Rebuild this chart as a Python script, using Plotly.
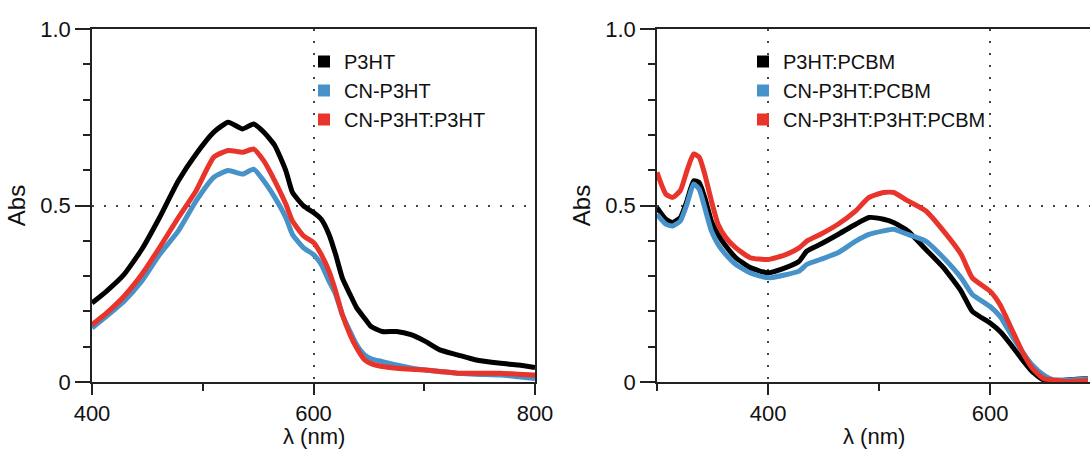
import plotly.graph_objects as go

# ---------------- data ----------------
# Left panel: films without PCBM
wl_left = [400, 413, 429, 445, 461, 478, 494, 510, 523, 536, 546, 555, 565, 575, 581,
           591, 600, 607, 614, 620, 626, 633, 639, 646, 652, 662, 675, 688, 701, 714,
           730, 746, 769, 785, 800]
abs_p3ht = [0.224, 0.257, 0.305, 0.376, 0.466, 0.570, 0.646, 0.708, 0.736, 0.717, 0.731,
            0.708, 0.670, 0.599, 0.537, 0.499, 0.480, 0.461, 0.418, 0.361, 0.295, 0.248,
            0.210, 0.181, 0.157, 0.143, 0.143, 0.134, 0.115, 0.091, 0.077, 0.063, 0.053,
            0.048, 0.041]
abs_cn_p3ht = [0.153, 0.186, 0.229, 0.286, 0.361, 0.428, 0.513, 0.580, 0.599, 0.589, 0.603,
               0.570, 0.523, 0.466, 0.418, 0.380, 0.361, 0.333, 0.286, 0.248, 0.191, 0.143,
               0.105, 0.077, 0.066, 0.058, 0.048, 0.040, 0.034, 0.030, 0.025, 0.022, 0.020,
               0.015, 0.010]
abs_cn_p3ht_p3ht = [0.162, 0.195, 0.243, 0.305, 0.381, 0.466, 0.542, 0.637, 0.656, 0.651,
                    0.660, 0.627, 0.570, 0.504, 0.456, 0.414, 0.395, 0.361, 0.314, 0.257,
                    0.191, 0.134, 0.096, 0.063, 0.052, 0.044, 0.039, 0.036, 0.034, 0.030,
                    0.025, 0.025, 0.025, 0.022, 0.020]

# Right panel: blends with PCBM
wl_right = [300, 308, 314, 321, 327, 333, 338, 343, 349, 355, 362, 371, 384, 400, 416,
            428, 435, 447, 463, 479, 491, 504, 513, 526, 542, 558, 574, 584, 600, 609,
            619, 629, 638, 648, 657, 669, 688]
abs_p3ht_pcbm = [0.494, 0.461, 0.452, 0.466, 0.513, 0.570, 0.565, 0.523, 0.456, 0.418,
                 0.385, 0.352, 0.324, 0.309, 0.324, 0.342, 0.371, 0.390, 0.418, 0.447,
                 0.466, 0.461, 0.452, 0.428, 0.376, 0.324, 0.257, 0.200, 0.167, 0.143,
                 0.105, 0.063, 0.029, 0.006, 0.001, 0.006, 0.009]
abs_cn_p3ht_pcbm = [0.475, 0.447, 0.442, 0.456, 0.504, 0.561, 0.546, 0.494, 0.428, 0.390,
                    0.361, 0.333, 0.309, 0.295, 0.304, 0.314, 0.333, 0.347, 0.366, 0.399,
                    0.418, 0.428, 0.433, 0.418, 0.399, 0.352, 0.295, 0.248, 0.214, 0.186,
                    0.134, 0.086, 0.048, 0.020, 0.006, 0.006, 0.008]
abs_cn_p3ht_p3ht_pcbm = [0.594, 0.532, 0.523, 0.542, 0.599, 0.646, 0.637, 0.589, 0.513,
                         0.447, 0.409, 0.380, 0.352, 0.347, 0.361, 0.380, 0.399, 0.418,
                         0.447, 0.485, 0.523, 0.537, 0.537, 0.513, 0.485, 0.428, 0.361,
                         0.295, 0.257, 0.219, 0.153, 0.086, 0.039, 0.010, 0.006, 0.001,
                         0.004]

names_left = ["P3HT", "CN-P3HT", "CN-P3HT:P3HT"]
names_right = ["P3HT:PCBM", "CN-P3HT:PCBM", "CN-P3HT:P3HT:PCBM"]
colors = ["#000000", "#4692c9", "#e8342a"]

y_tickvals = [0, 0.5, 1.0]
y_ticktext = ["0", "0.5", "1.0"]
x_title = "λ (nm)"
y_title = "Abs"

FONT = "Liberation Sans, Arial, Helvetica, sans-serif"
W, H = 1090, 450

fig = go.Figure()

series_left = [abs_p3ht, abs_cn_p3ht, abs_cn_p3ht_p3ht]
series_right = [abs_p3ht_pcbm, abs_cn_p3ht_pcbm, abs_cn_p3ht_p3ht_pcbm]

for name, ys, col in zip(names_left, series_left, colors):
    fig.add_trace(go.Scatter(x=wl_left, y=ys, mode="lines", name=name,
                             line=dict(color=col, width=5, shape="spline", smoothing=0.5),
                             showlegend=False, xaxis="x", yaxis="y"))
for name, ys, col in zip(names_right, series_right, colors):
    fig.add_trace(go.Scatter(x=wl_right, y=ys, mode="lines", name=name,
                             line=dict(color=col, width=5, shape="spline", smoothing=0.5),
                             showlegend=False, xaxis="x2", yaxis="y2"))

# legend entries (square swatches)
for name, col in zip(names_left, colors):
    fig.add_trace(go.Scatter(x=[None], y=[None], mode="markers", name=name,
                             marker=dict(symbol="square", size=16, color=col),
                             legend="legend", xaxis="x", yaxis="y"))
for name, col in zip(names_right, colors):
    fig.add_trace(go.Scatter(x=[None], y=[None], mode="markers", name=name,
                             marker=dict(symbol="square", size=16, color=col),
                             legend="legend2", xaxis="x2", yaxis="y2"))

ydom = [1 - 382 / H, 1 - 29 / H]
xdom1 = [92 / W, 535 / W]
xdom2 = [657 / W, 1.0]

axis_common = dict(
    showline=True, linecolor="#222", linewidth=1.5,
    ticks="outside", tickcolor="#222", tickwidth=1.5,
    tickfont=dict(family=FONT, size=22, color="#111"),
    showgrid=True, griddash="2px,10px", gridcolor="#444", gridwidth=1.5,
    zeroline=False, automargin=False,
)

xcommon = dict(axis_common, ticklen=11, dtick=200, tick0=0,
               minor=dict(dtick=100, ticklen=7, ticks="outside", tickcolor="#222",
                          tickwidth=1.5, showgrid=False))
ycommon = dict(axis_common, ticklen=15, range=[0, 1.0], tickvals=y_tickvals,
               ticktext=y_ticktext,
               minor=dict(tickvals=[0.1, 0.2, 0.3, 0.4, 0.6, 0.7, 0.8, 0.9], ticklen=7,
                          ticks="outside", tickcolor="#222", tickwidth=1.5, showgrid=False),
               title=dict(text=y_title, font=dict(family=FONT, size=24, color="#111"),
                          standoff=8))

fig.update_layout(
    width=W, height=H,
    margin=dict(l=0, r=0, t=0, b=0),
    paper_bgcolor="white", plot_bgcolor="white",
    xaxis=dict(xcommon, domain=xdom1, range=[400, 800], anchor="y", mirror=True),
    yaxis=dict(ycommon, domain=ydom, anchor="x", mirror=True),
    xaxis2=dict(xcommon, domain=xdom2, range=[300, 690], anchor="y2", mirror=True),
    yaxis2=dict(ycommon, domain=ydom, anchor="x2", mirror=False),
    legend=dict(x=304 / W, y=1 - 42 / H, xanchor="left", yanchor="top",
                bgcolor="rgba(0,0,0,0)", font=dict(family=FONT, size=20, color="#111"),
                itemsizing="constant", tracegroupgap=0),
    legend2=dict(x=743 / W, y=1 - 42 / H, xanchor="left", yanchor="top",
                 bgcolor="rgba(0,0,0,0)", font=dict(family=FONT, size=20, color="#111"),
                 itemsizing="constant", tracegroupgap=0),
    showlegend=True,
)

# x-axis titles, centred under each panel, sitting on the bottom edge
for dom in (xdom1, xdom2):
    fig.add_annotation(text=x_title, xref="paper", yref="paper",
                       x=(dom[0] + dom[1]) / 2, y=0,
                       xanchor="center", yanchor="bottom", showarrow=False,
                       borderpad=0,
                       font=dict(family=FONT, size=22, color="#111"))

fig.write_html("out.html")
